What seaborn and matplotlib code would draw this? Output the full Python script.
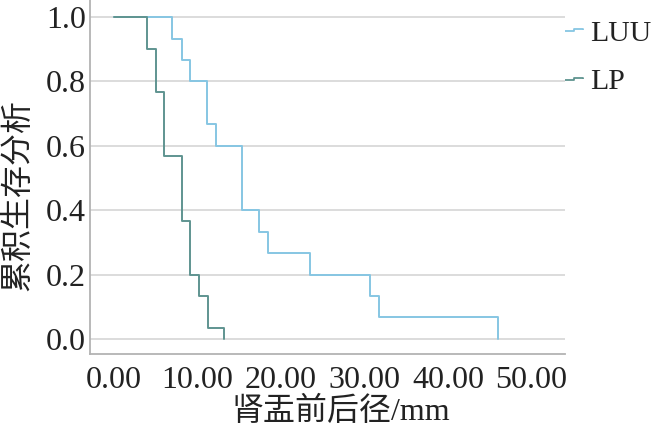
import numpy as np
import pandas as pd
import matplotlib
matplotlib.use("Agg")
import matplotlib.pyplot as plt
from matplotlib.path import Path
from matplotlib.lines import Line2D
import seaborn as sns

# ---- data ----
groups = ["LUU", "LP"]
luu_time = [0, 7.0, 8.1, 9.1, 11.1, 12.2, 15.3, 17.4, 18.4, 23.5, 30.7, 31.7, 46.0]
luu_surv = [1.0, 0.933, 0.867, 0.800, 0.667, 0.600, 0.400, 0.333, 0.267, 0.200, 0.133, 0.067, 0.0]
lp_time = [0, 4.0, 5.0, 6.0, 8.1, 9.1, 10.2, 11.2, 13.2]
lp_surv = [1.0, 0.900, 0.767, 0.567, 0.367, 0.200, 0.133, 0.033, 0.0]
xticks = [0, 10, 20, 30, 40, 50]
xticklabels = ["0.00", "10.00", "20.00", "30.00", "40.00", "50.00"]
yticks = [0.0, 0.2, 0.4, 0.6, 0.8, 1.0]
yticklabels = ["0.0", "0.2", "0.4", "0.6", "0.8", "1.0"]
colors = {"LUU": "#86c6e3", "LP": "#5f9490"}

df = pd.concat([
    pd.DataFrame({"time": luu_time, "surv": luu_surv, "group": "LUU"}),
    pd.DataFrame({"time": lp_time, "surv": lp_surv, "group": "LP"}),
], ignore_index=True)

sns.set_theme(style="white")
plt.rcParams["font.family"] = ["Liberation Serif", "Noto Sans CJK SC"]

W, H = 655, 430
fig = plt.figure(figsize=(W / 100, H / 100), dpi=100)
ax = fig.add_axes([90 / W, 1 - 354 / H, (565 - 90) / W, 354 / H])

sns.lineplot(data=df, x="time", y="surv", hue="group", hue_order=groups,
             palette=colors, estimator=None, sort=False,
             drawstyle="steps-post", linewidth=1.4, legend=False, ax=ax)

ax.set_xlim(-2.87, 54.0)
ax.set_ylim(-0.047, 1.053)
ax.set_xticks(xticks)
ax.set_xticklabels(xticklabels)
ax.set_yticks(yticks)
ax.set_yticklabels(yticklabels)
ax.tick_params(axis="both", length=0, labelsize=23, colors="#222222")
ax.tick_params(axis="x", pad=9)
ax.tick_params(axis="y", pad=3)
ax.grid(axis="y", color="#d9d9d9", linewidth=1.3)
ax.set_axisbelow(True)
for s in ["top", "right"]:
    ax.spines[s].set_visible(False)
for s in ["left", "bottom"]:
    ax.spines[s].set_color("#b3b3b3")
    ax.spines[s].set_linewidth(1.3)

ax.set_xlabel("肾盂前后径/mm", fontsize=23, color="#222222",
              family=["Liberation Serif", "Noto Sans CJK SC"])
ax.xaxis.label.set_va("center")
ax.xaxis.set_label_coords((341 - 90) / 475, -(412 - 354) / 354)
ax.set_ylabel("累积生存分析", fontsize=23, color="#222222",
              family=["Noto Sans CJK SC", "Liberation Serif"])
ax.yaxis.label.set_va("center")
ax.yaxis.set_label_coords((17 - 90) / 475, (354 - 195) / 354)

step = Path([(-1.0, -0.12), (-0.1, -0.12), (-0.1, 0.14), (0.8, 0.14), (0.8, 0.0)])
handles = [Line2D([], [], linestyle="none", marker=step, markersize=15,
                  markerfacecolor="none", markeredgecolor=colors[g], markeredgewidth=1.3)
           for g in groups]
fig.legend(handles, groups, loc="upper left", bbox_to_anchor=(562 / W, 1 - 20 / H),
           frameon=False, fontsize=21.5, handlelength=0.9, handletextpad=0.05,
           labelspacing=0.72, borderpad=0, borderaxespad=0, labelcolor="#222222")

fig.savefig("out.png", dpi=100)
